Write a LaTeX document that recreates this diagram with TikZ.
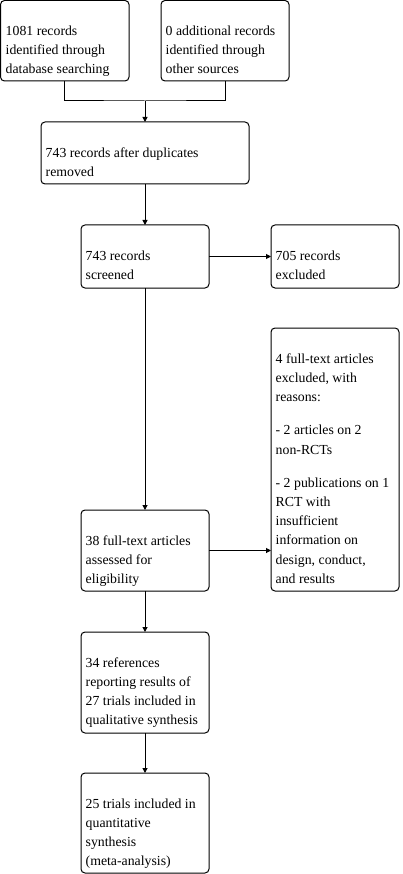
\documentclass[tikz,border=0pt]{standalone}
\usepackage{fontspec}
\newfontfamily\diagfont{Liberation Serif}
\usetikzlibrary{arrows.meta,calc}
\begin{document}
\begin{tikzpicture}[x=1pt,y=-1pt,
  box/.style={draw,line width=1pt,rounded corners=4pt,anchor=north west,inner sep=0pt,outer sep=0pt},
  txt/.style={anchor=north west,inner sep=0pt,align=left,font=\diagfont\fontsize{13.8}{19.2}\selectfont},
  arr/.style={line width=1pt,-{Triangle[length=5pt,width=5pt]}},
  ln/.style={line width=1pt}]
\useasboundingbox (0,0) rectangle (402,874);
\fill[white] (0,0) rectangle (402,874);
% boxes
\node[box,minimum width=128.5pt,minimum height=80.5pt] (b1) at (0.5,0.5) {};
\node[box,minimum width=128pt,minimum height=80.5pt] (b2) at (161,0.5) {};
\node[box,minimum width=208pt,minimum height=62pt] (b3) at (41,122) {};
\node[box,minimum width=128pt,minimum height=63pt] (b4) at (81,225) {};
\node[box,minimum width=128pt,minimum height=63pt] (b5) at (271,225) {};
\node[box,minimum width=128pt,minimum height=263pt] (b6) at (271,328) {};
\node[box,minimum width=128pt,minimum height=81pt] (b7) at (81,510) {};
\node[box,minimum width=128pt,minimum height=101pt] (b8) at (81,632) {};
\node[box,minimum width=128pt,minimum height=100pt] (b9) at (81,773) {};
% texts
\node[txt] (t1) at (5.5,23) {\rule{0pt}{12pt}1081 records\\identified through\\database searching};
\node[txt] (t2) at (165.5,23) {\rule{0pt}{12pt}0 additional records\\identified through\\other sources};
\node[txt] (t3) at (45.5,145) {\rule{0pt}{12pt}743 records after duplicates\\removed};
\node[txt] (t4) at (85.5,248) {\rule{0pt}{12pt}743 records\\screened};
\node[txt] (t5) at (275.5,248) {\rule{0pt}{12pt}705 records\\excluded};
\node[txt] (t6) at (275.5,351) {\rule{0pt}{12pt}4 full-text articles\\excluded, with\\reasons:\\[14pt]- 2 articles on 2\\non-RCTs\\[14pt]- 2 publications on 1\\RCT with\\insufficient\\information on\\design, conduct,\\and results};
\node[txt] (t7) at (85.5,533) {\rule{0pt}{12pt}38 full-text articles\\assessed for\\eligibility};
\node[txt] (t8) at (85.5,655) {\rule{0pt}{12pt}34 references\\reporting results of\\27 trials included in\\qualitative synthesis};
\node[txt] (t9) at (85.5,796) {\rule{0pt}{12pt}25 trials included in\\quantitative\\synthesis\\(meta-analysis)};
% connectors
\coordinate (jn) at (145,101);
\draw[ln] (b1.south) |- (jn) -| (b2.south);
\draw[arr] (jn) -- (b3.north);
\draw[arr] (b3.south) -- (b4.north);
\draw[arr] (b4.east) -- (b5.west);
\draw[arr] (b4.south) -- (b7.north);
\draw[arr] (b7.east) -- (b7.east -| b6.west);
\draw[arr] (b7.south) -- (b8.north);
\draw[arr] (b8.south) -- (b9.north);
\end{tikzpicture}
\end{document}
